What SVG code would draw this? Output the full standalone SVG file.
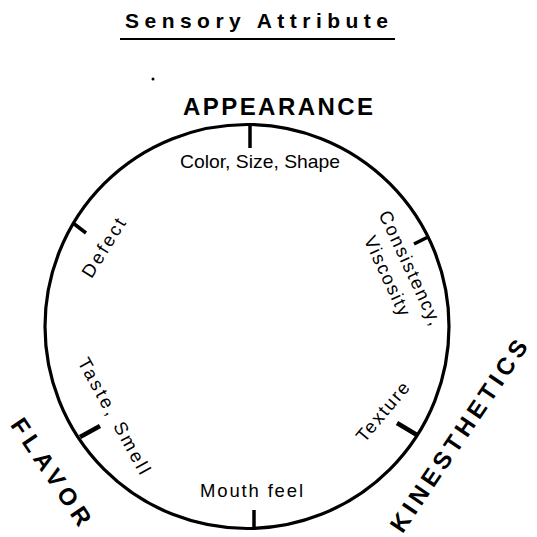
<svg xmlns="http://www.w3.org/2000/svg" width="537" height="537" viewBox="0 0 537 537">
<style>
.t{font-family:"Liberation Sans",Arial,sans-serif;fill:#000}
.big{font-size:24px;font-weight:bold}
.sm{font-size:18.5px}
.tick{stroke:#000;stroke-width:3.5;stroke-linecap:butt}
</style>
<rect width="537" height="537" fill="#fff"/>
<g id="title">
<text class="t" x="256.5" y="28" font-size="21" font-weight="bold" text-anchor="middle" textLength="263" lengthAdjust="spacing">Sensory Attribute</text>
<line x1="120" y1="39" x2="395" y2="39" stroke="#000" stroke-width="2"/>
</g>
<circle cx="153" cy="79" r="1.5" fill="#000"/>
<g id="wheel">
<circle cx="247" cy="326.5" r="202" fill="none" stroke="#000" stroke-width="3.2"/>
</g>
<g id="connectors">
<line class="tick" x1="250" y1="125" x2="250" y2="148"/>
<line class="tick" x1="254" y1="510" x2="254" y2="528"/>
<line class="tick" x1="73" y1="223" x2="86" y2="233"/>
<line class="tick" x1="428" y1="237" x2="414" y2="244"/>
<line class="tick" x1="417" y1="435" x2="397" y2="423" style="stroke-width:4.5"/>
<line class="tick" x1="80" y1="437" x2="100" y2="426" style="stroke-width:4.5"/>
</g>
<g id="appearance">
<text class="t big" x="278" y="115" text-anchor="middle" textLength="190" lengthAdjust="spacing">APPEARANCE</text>
<text class="t sm" x="260" y="168" text-anchor="middle" textLength="160" lengthAdjust="spacingAndGlyphs">Color, Size, Shape</text>
</g>
<g id="defect">
<text class="t sm" transform="translate(104,248) rotate(-58)" x="0" y="6" text-anchor="middle" textLength="66" lengthAdjust="spacing">Defect</text>
</g>
<g id="consistency">
<text class="t sm" transform="translate(410,268) rotate(65)" x="0" y="6" text-anchor="middle" textLength="124" lengthAdjust="spacing">Consistency,</text>
<text class="t sm" transform="translate(387,276) rotate(65)" x="0" y="6" text-anchor="middle" textLength="86" lengthAdjust="spacing">Viscosity</text>
</g>
<g id="texture">
<text class="t sm" transform="translate(383,412) rotate(-50)" x="0" y="6" text-anchor="middle" textLength="72" lengthAdjust="spacing">Texture</text>
</g>
<g id="taste">
<text class="t sm" transform="translate(114,416) rotate(61)" x="0" y="6" text-anchor="middle" textLength="130" lengthAdjust="spacing">Taste, Smell</text>
</g>
<g id="mouthfeel">
<text class="t sm" x="251.5" y="497" text-anchor="middle" textLength="103" lengthAdjust="spacing">Mouth feel</text>
</g>
<g id="flavor">
<text class="t big" transform="translate(51,472) rotate(56)" x="0" y="8" text-anchor="middle" textLength="124" lengthAdjust="spacing">FLAVOR</text>
</g>
<g id="kinesthetics">
<text class="t big" transform="translate(459,436) rotate(-56)" x="0" y="8" text-anchor="middle" textLength="226" lengthAdjust="spacing">KINESTHETICS</text>
</g>
</svg>
